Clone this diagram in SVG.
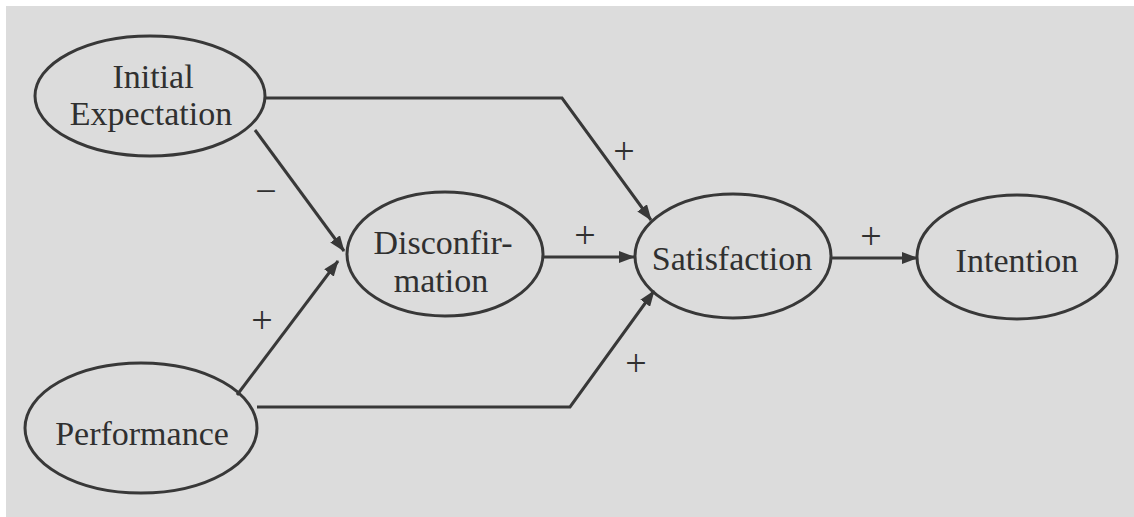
<svg xmlns="http://www.w3.org/2000/svg" width="1134" height="517" viewBox="0 0 1134 517">
<style>
.node{fill:none;stroke:#383838;stroke-width:3}
.lbl{font-family:"Liberation Serif","Times New Roman",serif;font-size:34px;fill:#303030;text-anchor:middle}
.sign{font-family:"Liberation Serif","Times New Roman",serif;font-size:38px;fill:#303030;text-anchor:middle}
.conn{fill:none;stroke:#383838;stroke-width:3;stroke-linejoin:miter}
</style>
<defs>
<marker id="arr" markerUnits="userSpaceOnUse" markerWidth="16" markerHeight="12" refX="15" refY="6" orient="auto">
<path d="M0,0 L16,6 L0,12 z" fill="#383838"/>
</marker>
</defs>
<rect x="0" y="0" width="1134" height="517" fill="#ffffff"/>
<rect x="6" y="6" width="1128" height="511" fill="#dcdcdc"/>
<g id="connectors">
<path class="conn" d="M266,98 L562,98 L651,220" marker-end="url(#arr)"/>
<path class="conn" d="M255,130 L344,251" marker-end="url(#arr)"/>
<path class="conn" d="M237,395 L338,261" marker-end="url(#arr)"/>
<path class="conn" d="M257,407 L570,407 L654,291" marker-end="url(#arr)"/>
<path class="conn" d="M543,257 L634,257" marker-end="url(#arr)"/>
<path class="conn" d="M831,258 L917,258" marker-end="url(#arr)"/>
<text class="sign" x="624" y="164">+</text>
<text class="sign" x="585" y="248">+</text>
<text class="sign" x="871" y="249">+</text>
<text class="sign" x="262" y="333">+</text>
<text class="sign" x="636" y="376">+</text>
<text class="sign" x="266" y="204">−</text>
</g>
<g id="initial-expectation">
<ellipse class="node" cx="150" cy="96" rx="115" ry="60"/>
<text class="lbl" x="153" y="88">Initial</text>
<text class="lbl" x="151" y="125">Expectation</text>
</g>
<g id="disconfirmation">
<ellipse class="node" cx="445" cy="254" rx="98" ry="62"/>
<text class="lbl" x="443" y="254">Disconfir-</text>
<text class="lbl" x="441" y="292">mation</text>
</g>
<g id="satisfaction">
<ellipse class="node" cx="733" cy="256" rx="98" ry="62"/>
<text class="lbl" x="732" y="270">Satisfaction</text>
</g>
<g id="intention">
<ellipse class="node" cx="1017" cy="257" rx="100" ry="62"/>
<text class="lbl" x="1017" y="272">Intention</text>
</g>
<g id="performance">
<ellipse class="node" cx="141" cy="428" rx="116" ry="65"/>
<text class="lbl" x="142" y="445">Performance</text>
</g>
</svg>
